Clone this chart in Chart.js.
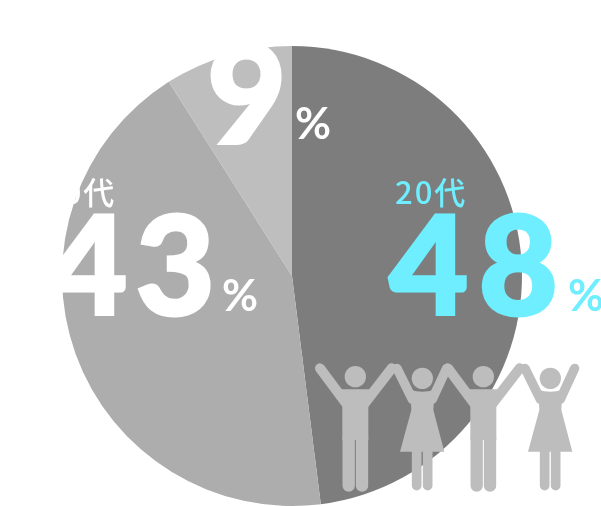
<!DOCTYPE html>
<html lang="ja">
<head>
<meta charset="utf-8">
<style>
  html, body { margin: 0; padding: 0; background: #fff; }
  #wrap { position: relative; width: 601px; height: 506px; overflow: hidden; }
</style>
<script src="https://cdn.jsdelivr.net/npm/chart.js@4"></script>
</head>
<body>
<div id="wrap"><canvas id="pie" width="601" height="506"></canvas></div>
<script>
const categories = ['20代', '30代', 'その他'];
const shares = [48, 43, 9];
const sliceColors = ['#7d7d7d', '#adadad', '#bebebe'];

const NUM_FONT = '900 137px Lato, sans-serif';
const PCT_FONT = '700 44px Lato, sans-serif';
const AGE_FONT = '500 31px "Noto Sans CJK JP", sans-serif';
const CYAN = '#6eeeff';
const WHITE = '#ffffff';
const PEOPLE = '#bdbdbd';

// big number + % + age label on top of the pie
const sliceLabels = {
  id: 'sliceLabels',
  afterDraw(chart) {
    const { ctx } = chart;
    const put = (text, x, y, font, color, spacing = '0px') => {
      ctx.font = font;
      ctx.letterSpacing = spacing;
      ctx.fillStyle = color;
      ctx.fillText(text, x, y);
    };
    // the numerals are heavier than Lato Black, so thicken them a little
    const putNumber = (text, x, y, color, spacing = '0px') => {
      put(text, x, y, NUM_FONT, color, spacing);
      ctx.strokeStyle = color;
      ctx.lineWidth = 3;
      ctx.lineJoin = 'miter';
      ctx.strokeText(text, x, y);
    };
    ctx.save();
    ctx.textBaseline = 'alphabetic';
    ctx.textAlign = 'left';
    put(categories[0], 395, 204, AGE_FONT, CYAN, '2px');
    putNumber(String(shares[0]), 389, 315, CYAN, '10px');
    put('%', 568, 311, PCT_FONT, CYAN);
    put(categories[1], 44, 204, AGE_FONT, WHITE, '2px');
    putNumber(String(shares[1]), 48, 315, WHITE, '8px');
    put('%', 222, 311, PCT_FONT, WHITE);
    putNumber(String(shares[2]), 207, 143, WHITE);
    put('%', 295, 139, PCT_FONT, WHITE);
    ctx.restore();
  },
};

// pictogram row, units are 1/3 px from the corner (300,340)
function drawPerson(ctx, f) {
  const line = (x1, y1, x2, y2, w) => {
    ctx.lineWidth = w;
    ctx.beginPath();
    ctx.moveTo(x1, y1);
    ctx.lineTo(x2, y2);
    ctx.stroke();
  };
  ctx.beginPath();
  ctx.arc(f.x, f.headY, 32, 0, Math.PI * 2);
  ctx.fill();
  if (f.dress) {
    line(f.x - 76, 85, f.x - 30, 178, 28);
    line(f.x + 73, 85, f.x + 30, 178, 28);
    ctx.beginPath();
    ctx.moveTo(f.x - 36, 150);
    ctx.quadraticCurveTo(f.x, 160, f.x + 36, 150);
    ctx.lineTo(f.x + 33, 210);
    ctx.lineTo(f.x + 66, 335);
    ctx.lineTo(f.x - 67, 335);
    ctx.lineTo(f.x - 33, 210);
    ctx.closePath();
    ctx.fill();
    line(f.x - 17, 330, f.x - 17, 437, 29);
    line(f.x + 16, 330, f.x + 16, 437, 29);
  } else {
    line(f.x - 106, 85, f.x - 28, 190, 30);
    line(f.x + 109, 85, f.x + 28, 190, 30);
    ctx.beginPath();
    ctx.moveTo(f.x - 52, 148);
    ctx.lineTo(f.x + 52, 148);
    ctx.lineTo(f.x + 39, 200);
    ctx.lineTo(f.x + 39, 300);
    ctx.lineTo(f.x - 39, 300);
    ctx.lineTo(f.x - 39, 200);
    ctx.closePath();
    ctx.fill();
    line(f.x - 20, 295, f.x - 20, 437, 37);
    line(f.x + 20, 295, f.x + 20, 437, 37);
  }
}

const peopleRow = {
  id: 'peopleRow',
  afterDraw(chart) {
    const { ctx } = chart;
    ctx.save();
    ctx.translate(300, 340);
    ctx.scale(1 / 3, 1 / 3);
    ctx.fillStyle = PEOPLE;
    ctx.strokeStyle = PEOPLE;
    ctx.lineCap = 'round';
    [
      { x: 166, headY: 110, dress: false },
      { x: 367, headY: 115, dress: true },
      { x: 550, headY: 110, dress: false },
      { x: 751, headY: 115, dress: true },
    ].forEach(f => drawPerson(ctx, f));
    ctx.restore();
  },
};

new Chart(document.getElementById('pie'), {
  type: 'pie',
  data: {
    labels: categories,
    datasets: [{
      data: shares,
      backgroundColor: sliceColors,
      borderWidth: 0,
    }],
  },
  options: {
    responsive: false,
    animation: false,
    layout: { padding: { left: 62, right: 79, top: 46, bottom: 0 } },
    plugins: { legend: { display: false }, tooltip: { enabled: false } },
  },
  plugins: [peopleRow, sliceLabels],
});
</script>
</body>
</html>
